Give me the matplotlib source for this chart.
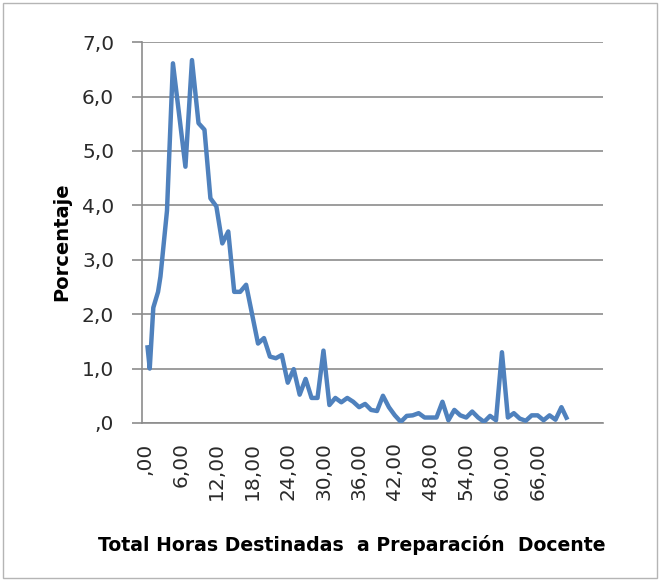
import matplotlib.pyplot as plt
from matplotlib.patches import Rectangle

# Horas y porcentaje
horas = [0.4, 0.8, 1.4, 2.2, 2.6, 3.7, 4.7, 6.8, 7.9,
         9, 10, 11, 12, 13, 14, 15, 16, 17, 19, 20, 21, 22, 23, 24, 25,
         26, 27, 28, 29, 30, 31, 32, 33, 34, 35, 36, 37, 38, 39, 40, 41,
         42, 43, 44, 45, 46, 47, 48, 49, 50, 51, 52, 53, 54, 55, 56, 57,
         58, 59, 60, 61, 62, 63, 64, 65, 66, 67, 68, 69, 70, 71]
porcentaje = [1.43, 1.00, 2.12, 2.41, 2.69, 3.90, 6.61, 4.71, 6.67,
              5.51, 5.39, 4.13, 3.98, 3.30, 3.52, 2.41, 2.41, 2.54, 1.46, 1.56, 1.22, 1.19, 1.25, 0.74, 0.99,
              0.52, 0.81, 0.46, 0.46, 1.33, 0.33, 0.46, 0.38, 0.46, 0.39, 0.29, 0.35, 0.24, 0.22, 0.50, 0.29,
              0.14, 0.02, 0.13, 0.14, 0.18, 0.10, 0.10, 0.10, 0.39, 0.05, 0.24, 0.14, 0.10, 0.21, 0.10, 0.02,
              0.13, 0.05, 1.30, 0.10, 0.18, 0.08, 0.04, 0.14, 0.14, 0.05, 0.14, 0.06, 0.29, 0.06]

y_ticks = [0, 1, 2, 3, 4, 5, 6, 7]
y_labels = [",0", "1,0", "2,0", "3,0", "4,0", "5,0", "6,0", "7,0"]
x_ticks = [0, 6, 12, 18, 24, 30, 36, 42, 48, 54, 60, 66]
x_labels = [",00", "6,00", "12,00", "18,00", "24,00", "30,00",
            "36,00", "42,00", "48,00", "54,00", "60,00", "66,00"]

fig = plt.figure(figsize=(6.62, 5.81), dpi=100)
ax = fig.add_axes([0.2145, 0.272, 0.6965, 0.6555])

gris = "#8c8c8c"
ax.plot(horas, porcentaje, color="#4F81BD", linewidth=3.2,
        solid_joinstyle="round", solid_capstyle="butt", zorder=3)

ax.set_xlim(-0.5, 77)
ax.set_ylim(0, 7)
ax.set_yticks(y_ticks)
ax.set_yticklabels(y_labels, fontsize=14.5, color="#2a2a2a")
ax.set_xticks(x_ticks)
ax.set_xticklabels(x_labels, fontsize=14.5, rotation=90, color="#2a2a2a")

ax.grid(axis="y", color=gris, linewidth=1.2)
ax.set_axisbelow(True)
for s in ["top", "right"]:
    ax.spines[s].set_visible(False)
for s in ["left", "bottom"]:
    ax.spines[s].set_color(gris)
    ax.spines[s].set_linewidth(1.2)

ax.tick_params(axis="y", length=7, width=1.2, color=gris, pad=13)
ax.tick_params(axis="x", length=0, pad=14)

fig.text(0.094, 0.584, "Porcentaje", rotation=90, fontsize=14,
         fontweight="bold", ha="center", va="center")
fig.text(0.532, 0.062, "Total Horas Destinadas  a Preparación  Docente",
         fontsize=13.6, fontweight="bold", ha="center", va="center")

# borde del área del gráfico
fig.patches.append(Rectangle((0.005, 0.005), 0.988, 0.99, transform=fig.transFigure,
                             fill=False, edgecolor="#b5b5b5", linewidth=1.0))

fig.savefig("out.png", dpi=100)
